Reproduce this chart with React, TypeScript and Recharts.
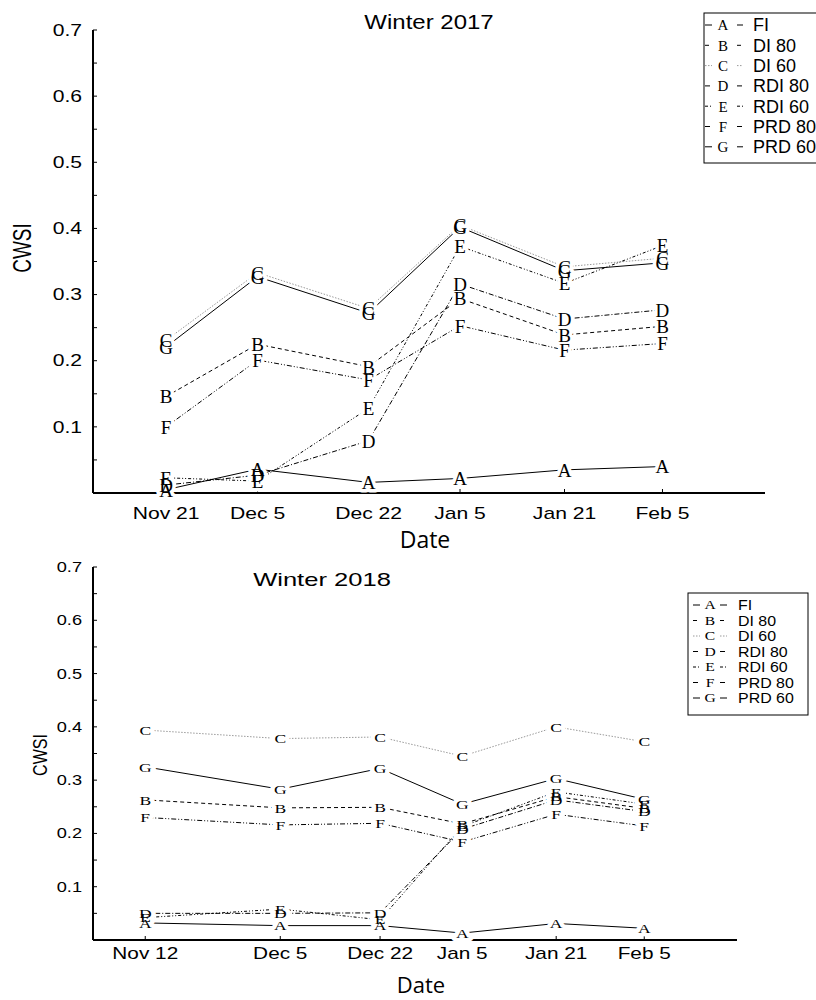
import React from "react";
import { LineChart, Line, XAxis, YAxis } from "recharts";

// Winter 2017, days counted from Nov 21
const dates2017 = ["Nov 21", "Dec 5", "Dec 22", "Jan 5", "Jan 21", "Feb 5"];
const days2017 = [0, 14, 31, 45, 61, 76];
const fi2017 = [0.005, 0.036, 0.016, 0.022, 0.035, 0.04];
const di80_2017 = [0.146, 0.225, 0.191, 0.294, 0.239, 0.252];
const di60_2017 = [0.231, 0.333, 0.279, 0.405, 0.342, 0.355];
const rdi80_2017 = [0.012, 0.027, 0.079, 0.316, 0.263, 0.277];
const rdi60_2017 = [0.023, 0.018, 0.128, 0.373, 0.317, 0.374];
const prd80_2017 = [0.1, 0.201, 0.171, 0.253, 0.216, 0.226];
const prd60_2017 = [0.221, 0.327, 0.272, 0.402, 0.336, 0.348];

// Winter 2018, days counted from Nov 12
const dates2018 = ["Nov 12", "Dec 5", "Dec 22", "Jan 5", "Jan 21", "Feb 5"];
const days2018 = [0, 23, 40, 54, 70, 85];
const fi2018 = [0.032, 0.027, 0.027, 0.013, 0.031, 0.022];
const di80_2018 = [0.263, 0.248, 0.249, 0.218, 0.269, 0.247];
const di60_2018 = [0.394, 0.378, 0.381, 0.345, 0.4, 0.372];
const rdi80_2018 = [0.05, 0.05, 0.051, 0.208, 0.263, 0.241];
const rdi60_2018 = [0.042, 0.058, 0.038, 0.213, 0.278, 0.255];
const prd80_2018 = [0.23, 0.216, 0.219, 0.184, 0.236, 0.214];
const prd60_2018 = [0.325, 0.283, 0.322, 0.255, 0.303, 0.264];

const letters = ["A", "B", "C", "D", "E", "F", "G"];
const treatments = ["FI", "DI 80", "DI 60", "RDI 80", "RDI 60", "PRD 80", "PRD 60"];
const yTicks = [0.05, 0.1, 0.15, 0.2, 0.25, 0.3, 0.35, 0.4, 0.45, 0.5, 0.55, 0.6, 0.65, 0.7];

const lineStyle: Record<string, { color: string; dash?: string }> = {
  A: { color: "#000" },
  B: { color: "#000", dash: "4 3" },
  C: { color: "#9a9a9a", dash: "1.5 1.5" },
  D: { color: "#000", dash: "5 2 1 2" },
  E: { color: "#000", dash: "3 2 1 2 1 2" },
  F: { color: "#000", dash: "5 2 1 2 1 2" },
  G: { color: "#000" },
};

const buildRows = (days: number[], series: number[][]) =>
  days.map((d, i) => {
    const row: Record<string, number> = { day: d };
    letters.forEach((L, j) => (row[L] = series[j][i]));
    return row;
  });

const rows2017 = buildRows(days2017, [fi2017, di80_2017, di60_2017, rdi80_2017, rdi60_2017, prd80_2017, prd60_2017]);
const rows2018 = buildRows(days2018, [fi2018, di80_2018, di60_2018, rdi80_2018, rdi60_2018, prd80_2018, prd60_2018]);

const SANS = "'Liberation Sans', Arial, sans-serif";
const SERIF = "'Liberation Serif', 'Times New Roman', serif";

function StretchText({ x, y, text, anchor, size, sx, dy, family = SANS }: any) {
  return (
    <text
      transform={`translate(${x},${y}) scale(${sx},1)`}
      textAnchor={anchor}
      dy={dy}
      fontSize={size}
      fontFamily={family}
      fill="#000"
    >
      {text}
    </text>
  );
}

const letterDot = (letter: string, size: number, sx: number, halo: boolean) => (p: any) => {
  const { cx, cy, index } = p;
  const key = `${halo ? "h" : "t"}${letter}${index}`;
  if (cx == null || cy == null) return <g key={key} />;
  return (
    <text
      key={key}
      transform={`translate(${cx},${cy}) scale(${sx},1)`}
      textAnchor="middle"
      dy="0.36em"
      fontSize={size}
      fontFamily={SERIF}
      fill={halo ? "#fff" : "#000"}
      stroke={halo ? "#fff" : "none"}
      strokeWidth={halo ? 7 : 0}
      strokeLinejoin="round"
    >
      {letter}
    </text>
  );
};

function Panel({ rows, days, dates, xDomain, top, height, margin, xFont, yFont, sx, xTickMargin, letterSize, letterSx }: any) {
  const fmtY = (v: number) => (Math.round(v * 100) % 10 === 0 ? v.toFixed(1) : "");
  return (
    <div style={{ position: "absolute", left: 0, top }}>
      <LineChart width={816} height={height} data={rows} margin={margin}>
        <XAxis
          type="number"
          dataKey="day"
          domain={xDomain}
          ticks={days}
          interval={0}
          allowDataOverflow
          height={30}
          axisLine={{ stroke: "#000", strokeWidth: 2 }}
          tickLine={{ stroke: "#000" }}
          tickSize={-4}
          tickMargin={xTickMargin}
          tick={(p: any) => (
            <StretchText
              key={`x${p.index}`}
              x={p.x}
              y={p.y}
              text={dates[days.indexOf(p.payload.value)]}
              anchor="middle"
              size={xFont}
              sx={sx}
              dy="0.71em"
            />
          )}
        />
        <YAxis
          type="number"
          domain={[0, 0.7]}
          ticks={yTicks}
          interval={0}
          width={60}
          axisLine={{ stroke: "#000", strokeWidth: 2 }}
          tickLine={{ stroke: "#000" }}
          tickSize={-4}
          tickMargin={15}
          tick={(p: any) => (
            <StretchText
              key={`y${p.index}`}
              x={p.x}
              y={p.y}
              text={fmtY(p.payload.value)}
              anchor="end"
              size={yFont}
              sx={sx}
              dy="0.36em"
            />
          )}
        />
        {letters.map((L) => (
          <Line
            key={`l${L}`}
            type="linear"
            dataKey={L}
            stroke={lineStyle[L].color}
            strokeDasharray={lineStyle[L].dash}
            strokeWidth={1}
            dot={false}
            activeDot={false}
            isAnimationActive={false}
          />
        ))}
        {letters.map((L) => (
          <Line
            key={`h${L}`}
            dataKey={L}
            stroke="none"
            dot={letterDot(L, letterSize, letterSx, true)}
            activeDot={false}
            isAnimationActive={false}
          />
        ))}
        {letters.map((L) => (
          <Line
            key={`t${L}`}
            dataKey={L}
            stroke="none"
            dot={letterDot(L, letterSize, letterSx, false)}
            activeDot={false}
            isAnimationActive={false}
          />
        ))}
      </LineChart>
    </div>
  );
}

function LegendBox({ x, y, w, h, row0, gap, seg1, letterX, seg2, labelX, font, labelSx, letterFont, letterSx }: any) {
  return (
    <g>
      <rect x={x} y={y} width={w} height={h} fill="#fff" stroke="#000" strokeWidth={1} />
      {letters.map((L, i) => {
        const ry = row0 + i * gap;
        const st = lineStyle[L];
        return (
          <g key={L}>
            <line x1={x + seg1[0]} x2={x + seg1[1]} y1={ry} y2={ry} stroke={st.color} strokeDasharray={st.dash} />
            <StretchText x={x + letterX} y={ry} text={L} anchor="middle" size={letterFont} sx={letterSx} dy="0.36em" family={SERIF} />
            <line x1={x + seg2[0]} x2={x + seg2[1]} y1={ry} y2={ry} stroke={st.color} strokeDasharray={st.dash} />
            <StretchText x={x + labelX} y={ry} text={treatments[i]} anchor="start" size={font} sx={labelSx} dy="0.36em" />
          </g>
        );
      })}
    </g>
  );
}

export default function App() {
  return (
    <div style={{ position: "absolute", left: 0, top: 0, width: 816, height: 1000, overflow: "hidden", background: "#fff" }}>
      <Panel
        rows={rows2017}
        days={days2017}
        dates={dates2017}
        xDomain={[-11.2, 91.7]}
        top={0}
        height={560}
        margin={{ top: 30, right: 51, bottom: 37, left: 33 }}
        xFont={16}
        yFont={16}
        sx={1.32}
        xTickMargin={19}
        letterSize={19}
        letterSx={1}
      />
      <Panel
        rows={rows2018}
        days={days2018}
        dates={dates2018}
        xDomain={[-8.9, 100.8]}
        top={540}
        height={460}
        margin={{ top: 27, right: 79, bottom: 30, left: 33 }}
        xFont={16}
        yFont={14}
        sx={1.3}
        xTickMargin={12}
        letterSize={13}
        letterSx={1.35}
      />
      <svg width={816} height={1000} style={{ position: "absolute", left: 0, top: 0, pointerEvents: "none" }}>
        <StretchText x={429} y={22} text="Winter 2017" anchor="middle" size={20} sx={1.2} dy="0.36em" />
        <StretchText x={322} y={580} text="Winter 2018" anchor="middle" size={18} sx={1.42} dy="0.36em" />
        <g transform="translate(22,248) scale(1.35,1) rotate(-90)">
          <text textAnchor="middle" dy="0.36em" fontSize={19} fontFamily={SANS}>CWSI</text>
        </g>
        <g transform="translate(40,755) scale(1.3,1) rotate(-90)">
          <text textAnchor="middle" dy="0.36em" fontSize={16} fontFamily={SANS}>CWSI</text>
        </g>
        <text x={425} y={540} textAnchor="middle" dy="0.36em" fontSize={23} fontFamily="'Open Sans', sans-serif">Date</text>
        <text x={421} y={985} textAnchor="middle" dy="0.36em" fontSize={22} fontFamily="'Open Sans', sans-serif">Date</text>
        <LegendBox
          x={704} y={13} w={140} h={150} row0={25} gap={20.3}
          seg1={[1, 8]} letterX={19} seg2={[33, 39]} labelX={49}
          font={18} labelSx={1} letterFont={15} letterSx={1}
        />
        <LegendBox
          x={688} y={593} w={120} h={122} row0={605} gap={15.5}
          seg1={[5, 12]} letterX={22} seg2={[32, 39]} labelX={50}
          font={14.5} labelSx={1.1} letterFont={12} letterSx={1.3}
        />
      </svg>
    </div>
  );
}
